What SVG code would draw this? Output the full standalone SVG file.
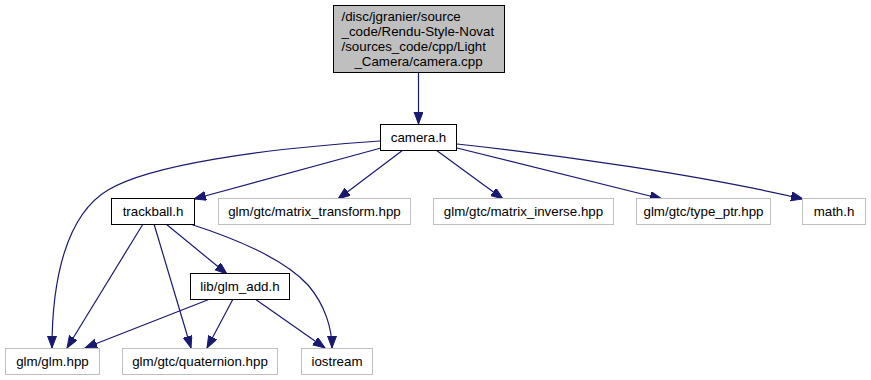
<svg xmlns="http://www.w3.org/2000/svg" width="871" height="380" viewBox="0 0 871 380">
<style>
  text { font-family: "Liberation Sans", Arial, sans-serif; font-size: 13.33px; fill: #000; }
  .c { text-anchor: middle; }
  .main rect { fill: #bfbfbf; stroke: #000; stroke-width: 1; }
  .local rect { fill: #fff; stroke: #000; stroke-width: 1; }
  .ext rect { fill: #fff; stroke: #bfbfbf; stroke-width: 1; }
  #edges path { fill: none; stroke: #191970; stroke-width: 1.2; marker-end: url(#arrow); }
</style>
<defs>
  <marker id="arrow" markerUnits="userSpaceOnUse" markerWidth="14" markerHeight="11" refX="12" refY="4.5" orient="auto">
    <path d="M0,0 L12,4.5 L0,9 Z" fill="#191970" stroke="#191970" stroke-width="1"/>
  </marker>
</defs>
<rect width="871" height="380" fill="#fff"/>

<g id="edges">
  <path d="M418.5,72 L418.5,124"/>
  <path d="M380,141 C260,149 150,165 108,190 C66,215 52,280 52,348"/>
  <path d="M381,148 L194,199"/>
  <path d="M403,150 L338,199"/>
  <path d="M436,150 L503,199"/>
  <path d="M457,148 L662,199"/>
  <path d="M457,144 C560,155 700,175 803,199"/>
  <path d="M143,224 L67,348"/>
  <path d="M154,224 L191,348"/>
  <path d="M166,224 L227,274"/>
  <path d="M190,224 C240,240 285,260 308,285 C326,306 332,330 332,348"/>
  <path d="M210,299 L85,348"/>
  <path d="M233,299 L207,348"/>
  <path d="M255,299 L325,348"/>
</g>

<g id="node-camera-cpp" class="main">
  <rect x="333.5" y="5.5" width="171" height="67"/>
  <text x="341.5" y="20.5">/disc/jgranier/source</text>
  <text x="341.5" y="35.5">_code/Rendu-Style-Novat</text>
  <text x="341.5" y="50.5">/sources_code/cpp/Light</text>
  <text x="418.5" y="65.5" class="c">_Camera/camera.cpp</text>
</g>

<g id="node-camera-h" class="local">
  <rect x="380.5" y="124.5" width="76" height="26"/>
  <text x="418.5" y="142" class="c">camera.h</text>
</g>

<g id="node-trackball-h" class="local">
  <rect x="111.5" y="198.5" width="83" height="26"/>
  <text x="153" y="216" class="c">trackball.h</text>
</g>

<g id="node-matrix-transform" class="ext">
  <rect x="218.5" y="198.5" width="192" height="26"/>
  <text x="314.5" y="216" class="c">glm/gtc/matrix_transform.hpp</text>
</g>

<g id="node-matrix-inverse" class="ext">
  <rect x="433.5" y="198.5" width="180" height="26"/>
  <text x="523.5" y="216" class="c">glm/gtc/matrix_inverse.hpp</text>
</g>

<g id="node-type-ptr" class="ext">
  <rect x="636.5" y="198.5" width="134" height="26"/>
  <text x="703.5" y="216" class="c">glm/gtc/type_ptr.hpp</text>
</g>

<g id="node-math-h" class="ext">
  <rect x="802.5" y="198.5" width="63" height="26"/>
  <text x="834" y="216" class="c">math.h</text>
</g>

<g id="node-glm-add" class="local">
  <rect x="190.5" y="273.5" width="99" height="26"/>
  <text x="240" y="291" class="c">lib/glm_add.h</text>
</g>

<g id="node-glm-hpp" class="ext">
  <rect x="5.5" y="348.5" width="94" height="26"/>
  <text x="52.5" y="366" class="c">glm/glm.hpp</text>
</g>

<g id="node-quaternion" class="ext">
  <rect x="122.5" y="348.5" width="155" height="26"/>
  <text x="200" y="366" class="c">glm/gtc/quaternion.hpp</text>
</g>

<g id="node-iostream" class="ext">
  <rect x="301.5" y="348.5" width="71" height="26"/>
  <text x="337" y="366" class="c">iostream</text>
</g>
</svg>
